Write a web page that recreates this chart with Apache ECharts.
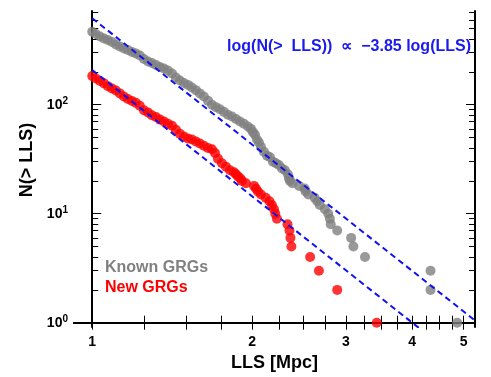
<!DOCTYPE html>
<html>
<head>
<meta charset="utf-8">
<script src="https://cdn.jsdelivr.net/npm/echarts@6/dist/echarts.min.js"></script>
<style>
  html, body { margin: 0; padding: 0; background: #fff; }
  #chart { width: 491px; height: 377px; }
</style>
</head>
<body>
<div id="chart"></div>
<script>
// cumulative counts N(> LLS)
const knownLLS = [1.00, 1.016, 1.034, 1.052, 1.070, 1.089, 1.108, 1.127, 1.147, 1.167, 1.188, 1.208, 1.229, 1.251, 1.273, 1.295, 1.318, 1.341, 1.364, 1.388, 1.413, 1.437, 1.462, 1.488, 1.514, 1.540, 1.567, 1.594, 1.622, 1.651, 1.680, 1.709, 1.739, 1.769, 1.800, 1.832, 1.864, 1.896, 1.929, 1.963, 1.989, 2.006, 2.024, 2.041, 2.059, 2.077, 2.104, 2.132, 2.160, 2.188, 2.216, 2.245, 2.275, 2.304, 2.334, 2.345,
  2.355, 2.38, 2.45, 2.51, 2.52, 2.55, 2.62, 2.65, 2.68, 2.74, 2.78, 2.80, 2.81, 2.89, 3.07, 3.10, 3.26, 4.33, 4.33, 4.86]
const knownN = [467, 445, 422, 405, 392, 376, 357, 342, 328, 318, 304, 295, 283, 263, 249, 241, 231, 222, 215, 206, 193, 178, 167, 158, 152, 144, 136, 127, 119, 109, 100, 95, 91, 86, 81, 78, 74, 70, 67, 63, 60, 56, 53, 48, 45, 41, 37, 34, 33, 30, 29, 28, 26, 25, 23, 21,
  20, 19, 18, 17, 16, 15, 14, 13, 12, 11, 10, 9, 8, 7, 6, 5, 4, 3, 2, 1]
const newLLS = [1.00, 1.016, 1.034, 1.052, 1.070, 1.089, 1.108, 1.127, 1.147, 1.167, 1.188, 1.208, 1.229, 1.251, 1.273, 1.295, 1.318, 1.341, 1.364, 1.388, 1.413, 1.437, 1.462, 1.488, 1.514, 1.540, 1.567, 1.594, 1.622, 1.651, 1.680, 1.702, 1.724, 1.754, 1.785, 1.816, 1.848, 1.864,
  1.880, 1.90, 1.913, 1.946, 2.015, 2.032, 2.05, 2.077, 2.12, 2.155, 2.178, 2.198, 2.21, 2.226, 2.33, 2.35, 2.36, 2.37, 2.57, 2.67, 2.89, 3.43]
const newN = [183, 174, 165, 157, 148, 141, 135, 127, 119, 113, 108, 104, 98, 89, 85, 80, 77, 73, 70, 67, 64, 59, 54, 51, 49, 48, 46, 44, 42, 40, 39, 36, 32, 29, 27, 25, 24, 23,
  22, 21, 20, 19, 18, 17, 16, 15, 14, 13, 12, 11, 10, 9, 8, 7, 6, 5, 4, 3, 2, 1]

// power-law guides: log N = log A - 3.85 log LLS
const fitSlope = -3.85
const fitNorm = [621, 208]

const xTicks = [1, 1.25, 1.5, 1.75, 2, 2.25, 2.5, 2.75, 3, 3.25, 3.5, 3.75, 4, 4.25, 4.5, 4.75, 5]
const xLabels = [1, 2, 3, 4, 5]
const yMajor = [1, 10, 100]
const yMinor = [2, 3, 4, 5, 6, 7, 8, 9, 20, 30, 40, 50, 60, 70, 80, 90, 200, 300, 400, 500, 600, 700]

const xRange = [0.924, 5.25]
const yRange = [0.913, 724]

const lg = Math.log10
const toPts = (xs, ys) => xs.map((x, i) => [lg(x), lg(ys[i])])

const xMin = lg(xRange[0]), xMax = lg(xRange[1])
const yMin = lg(yRange[0]), yMax = lg(yRange[1])

const axisLineStyle = { show: true, lineStyle: { color: '#000', width: 2 } }

function xAxisDef (pos, labels) {
  return {
    type: 'value', position: pos, min: xMin, max: xMax,
    splitLine: { show: false },
    axisLine: axisLineStyle,
    axisTick: { show: true, inside: true, length: 7, customValues: xTicks.map(lg), lineStyle: { color: '#000', width: 1 } },
    axisLabel: {
      show: labels, customValues: xLabels.map(lg), margin: 8,
      color: '#000', fontSize: 14, fontWeight: 'bold', fontFamily: 'Liberation Sans',
      formatter: v => String(Math.round(Math.pow(10, v)))
    },
    name: labels ? 'LLS [Mpc]' : '',
    nameLocation: 'middle', nameGap: 26,
    nameTextStyle: { color: '#000', fontSize: 18, fontWeight: 'bold', fontFamily: 'Liberation Sans' }
  }
}

function yAxisDef (pos, major, labels) {
  return {
    type: 'value', position: pos, min: yMin, max: yMax,
    splitLine: { show: false },
    axisLine: major ? axisLineStyle : { show: false },
    axisTick: { show: true, inside: true, length: major ? 9 : 6, customValues: (major ? yMajor : yMinor).map(lg), lineStyle: { color: '#000', width: 1 } },
    axisLabel: {
      show: labels, customValues: yMajor.map(lg), margin: 6,
      formatter: v => '{b|10}{s|' + Math.round(v) + '}',
      rich: {
        b: { color: '#000', fontSize: 14, fontWeight: 'bold', fontFamily: 'Liberation Sans' },
        s: { color: '#000', fontSize: 10, fontWeight: 'bold', fontFamily: 'Liberation Sans', padding: [0, 0, 7, 0] }
      }
    },
    name: labels ? 'N(> LLS)' : '',
    nameLocation: 'middle', nameGap: 28, nameRotate: 90,
    nameTextStyle: { color: '#000', fontSize: 18, fontWeight: 'bold', fontFamily: 'Liberation Sans', padding: [0, 0, 0, 18] }
  }
}

function fitLine (norm) {
  return [[0, lg(norm)], [xMax, lg(norm) + fitSlope * xMax]]
}

const chart = echarts.init(document.getElementById('chart'), null, { renderer: 'canvas' })
chart.setOption({
  animation: false,
  grid: { left: 74, right: 16, top: 11, bottom: 50 },
  legend: {
    orient: 'vertical', left: 95, top: 255, icon: 'none', itemWidth: 0, itemGap: 4,
    selectedMode: false,
    textStyle: { fontSize: 16, fontWeight: 'bold', fontFamily: 'Liberation Sans' },
    data: [
      { name: 'Known GRGs', textStyle: { color: '#808080' } },
      { name: 'New GRGs', textStyle: { color: '#ff0000' } }
    ]
  },
  graphic: [{
    type: 'text', right: 20, top: 39,
    style: {
      text: 'log(N(>  LLS))  \u221d  \u22123.85 log(LLS)',
      fill: '#1a1aee', font: 'bold 16px "Liberation Sans"'
    }
  }],
  xAxis: [xAxisDef('bottom', true), xAxisDef('top', false)],
  yAxis: [yAxisDef('left', true, true), yAxisDef('left', false, false), yAxisDef('right', true, false), yAxisDef('right', false, false)],
  series: [
    {
      name: 'Known GRGs', type: 'scatter', symbol: 'circle', symbolSize: 10,
      itemStyle: { color: '#808080' },
      data: toPts(knownLLS, knownN)
    },
    {
      name: 'New GRGs', type: 'scatter', symbol: 'circle', symbolSize: 10,
      itemStyle: { color: '#ff0000' },
      data: toPts(newLLS, newN)
    },
    ...fitNorm.map(a => ({
      type: 'line', showSymbol: false, clip: true,
      lineStyle: { color: '#1010f0', width: 2, type: [6, 4] },
      data: fitLine(a)
    }))
  ]
})
</script>
</body>
</html>
